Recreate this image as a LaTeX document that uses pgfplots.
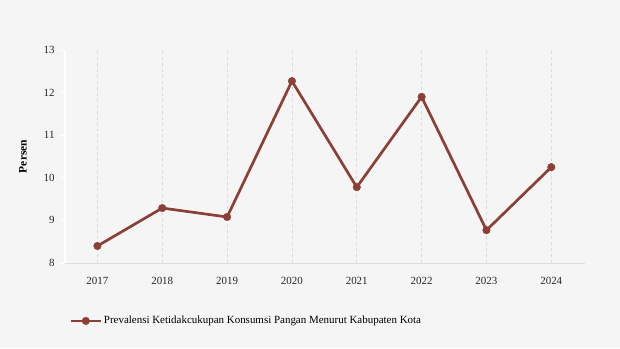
\documentclass[border=0pt]{standalone}
\usepackage{pgfplots}
\pgfplotsset{compat=1.18}
\usepackage{fontspec}
\setmainfont{Liberation Serif}
\definecolor{bg}{HTML}{F5F5F5}
\definecolor{ln}{HTML}{8A4036}
\definecolor{gridc}{HTML}{D9D9D9}
\definecolor{axc}{HTML}{DDDDDD}
\begin{document}
\begin{tikzpicture}[x=1bp,y=1bp]
\fill[bg] (-65,-85) rectangle (555,263);
\begin{axis}[
  at={(0,0)}, anchor=south west,
  scale only axis, width=520bp, height=213bp,
  xmin=2016.5, xmax=2024.52, ymin=8, ymax=13,
  xtick={2017,...,2024}, ytick={8,...,13},
  xticklabel style={/pgf/number format/1000 sep={}},
  /pgf/number format/assume math mode=true,
  tick label style={font=\fontsize{11}{13}\selectfont, text=black!85},
  axis line style={draw=none},
  xmajorgrids, grid style={gridc, line width=0.8pt, dash pattern=on 3pt off 3pt},
  major x tick style={draw=none},
  major y tick style={white, line width=0.8pt},
  ytick pos=left,
  tick align=outside, major tick length=6bp,
  yticklabel style={xshift=-1bp},
  xticklabel style={yshift=-5bp},
  ylabel={\textbf{Persen}}, ylabel style={font=\fontsize{11.5}{13}\selectfont, yshift=10bp},
  legend style={at={(0.003,-0.272)}, anchor=west, draw=none, fill=none,
    font=\fontsize{11}{13}\selectfont, legend cell align=left},
  legend image code/.code={\draw[mark repeat=2,mark phase=2,#1] plot coordinates {(0cm,0cm) (0.52cm,0cm) (1.04cm,0cm)};},
  clip=false,
]
\draw[white, line width=1.2pt] (axis cs:2016.5,8) -- (axis cs:2016.5,13);
\draw[axc, line width=1pt] (axis cs:2016.5,8) -- (axis cs:2024.52,8);
\addplot[ln, line width=2.7pt, mark=*, mark size=3.8pt, mark options={solid, fill=ln, draw=ln, line width=0.4pt}]
coordinates {(2017,8.40) (2018,9.29) (2019,9.08) (2020,12.27) (2021,9.78) (2022,11.90) (2023,8.77) (2024,10.25)};
\addlegendentry{Prevalensi Ketidakcukupan Konsumsi Pangan Menurut Kabupaten Kota}
\end{axis}
\end{tikzpicture}
\end{document}
